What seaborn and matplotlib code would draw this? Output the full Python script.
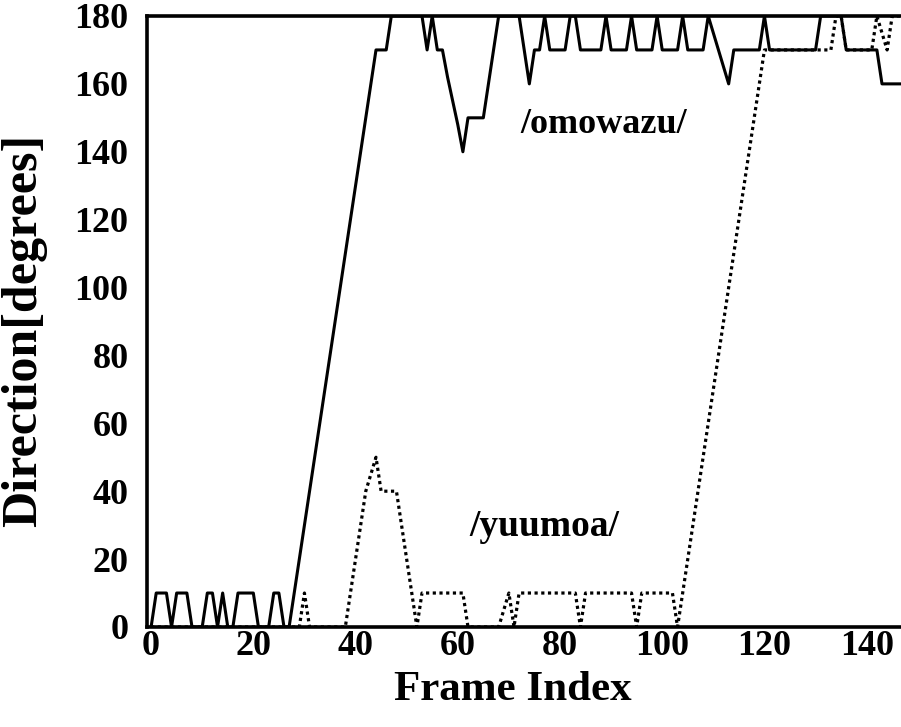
import numpy as np
import pandas as pd
import matplotlib
matplotlib.use("Agg")
import matplotlib.pyplot as plt
import seaborn as sns

# Direction per frame for the two utterances
frames = list(range(148))

omowazu = [
    0, 10, 10, 10, 0, 10, 10, 10, 0, 0,
    0, 10, 10, 0, 10, 0, 0, 10, 10, 10,
    10, 0, 0, 0, 10, 10, 0, 0, 10, 20,
    30, 40, 50, 60, 70, 80, 90, 100, 110, 120,
    130, 140, 150, 160, 170, 170, 170, 180, 180, 180,
    180, 180, 180, 180, 170, 180, 170, 170, 162, 155,
    148, 140, 150, 150, 150, 150, 160, 170, 180, 180,
    180, 180, 180, 170, 160, 170, 170, 180, 170, 170,
    170, 170, 180, 180, 170, 170, 170, 170, 170, 180,
    170, 170, 170, 170, 180, 170, 170, 170, 170, 180,
    170, 170, 170, 170, 180, 170, 170, 170, 170, 180,
    175, 170, 165, 160, 170, 170, 170, 170, 170, 170,
    180, 170, 170, 170, 170, 170, 170, 170, 170, 170,
    170, 180, 180, 180, 180, 180, 170, 170, 170, 170,
    170, 170, 170, 160, 160, 160, 160, 160,
]

yuumoa = [
    0, 0, 0, 0, 0, 0, 0, 0, 0, 0,
    0, 0, 0, 0, 0, 0, 0, 0, 0, 0,
    0, 0, 0, 0, 0, 0, 0, 0, 0, 0,
    10, 0, 0, 0, 0, 0, 0, 0, 0, 10,
    20, 30, 40, 45, 50, 40, 40, 40, 40, 30,
    20, 10, 0, 10, 10, 10, 10, 10, 10, 10,
    10, 10, 0, 0, 0, 0, 0, 0, 0, 5,
    10, 0, 10, 10, 10, 10, 10, 10, 10, 10,
    10, 10, 10, 10, 0, 10, 10, 10, 10, 10,
    10, 10, 10, 10, 10, 0, 10, 10, 10, 10,
    10, 10, 10, 0, 10, 20, 30, 40, 50, 60,
    70, 80, 90, 100, 110, 120, 130, 140, 150, 160,
    170, 170, 170, 170, 170, 170, 170, 170, 170, 170,
    170, 170, 170, 170, 180, 180, 170, 170, 170, 170,
    170, 170, 180, 175, 170, 180, 180, 180,
]

x_ticks = [0, 20, 40, 60, 80, 100, 120, 140]
y_ticks = [0, 20, 40, 60, 80, 100, 120, 140, 160, 180]

df = pd.DataFrame({"frame": frames, "omowazu": omowazu, "yuumoa": yuumoa})

sns.set_theme(style="white")
plt.rcParams["font.family"] = ["Liberation Serif", "DejaVu Serif"]
plt.rcParams["font.weight"] = "bold"
plt.rcParams["text.color"] = "black"
plt.rcParams["axes.labelcolor"] = "black"

fig = plt.figure(figsize=(9.01, 7.27), dpi=100)
ax = fig.add_axes([0.1626, 0.1376, 0.839, 0.8404])

sns.lineplot(data=df, x="frame", y="omowazu", ax=ax, color="black",
             linewidth=2.2, estimator=None)
sns.lineplot(data=df, x="frame", y="yuumoa", ax=ax, color="black",
             linewidth=2.3, linestyle=(0, (1, 1.1)), estimator=None)

ax.set_xlim(-0.9, 147)
ax.set_ylim(0, 180)
ax.set_xticks(x_ticks)
ax.set_yticks(y_ticks)
ax.tick_params(axis="both", length=0, labelsize=26, colors="black")
ax.tick_params(axis="x", pad=2)
ax.tick_params(axis="y", pad=13)
for lab in ax.get_xticklabels() + ax.get_yticklabels():
    lab.set_fontweight("bold")

for side in ["top", "bottom", "left"]:
    ax.spines[side].set_visible(True)
    ax.spines[side].set_color("black")
    ax.spines[side].set_linewidth(2.6)
ax.spines["right"].set_visible(False)

ax.set_xlabel("Frame Index", fontsize=31, fontweight="bold", color="black")
ax.set_ylabel("Direction[degrees]", fontsize=36, fontweight="bold",
              color="black")
ax.xaxis.set_label_coords(0.485, -0.072)
ax.yaxis.set_label_coords(-0.131, 0.486)
ax.grid(False)

ax.text(88.5, 148, "/omowazu/", fontsize=26, fontweight="bold",
        ha="center", va="center", color="black")
ax.text(77, 29.5, "/yuumoa/", fontsize=27, fontweight="bold",
        ha="center", va="center", color="black")

fig.savefig("out.png", dpi=100)
